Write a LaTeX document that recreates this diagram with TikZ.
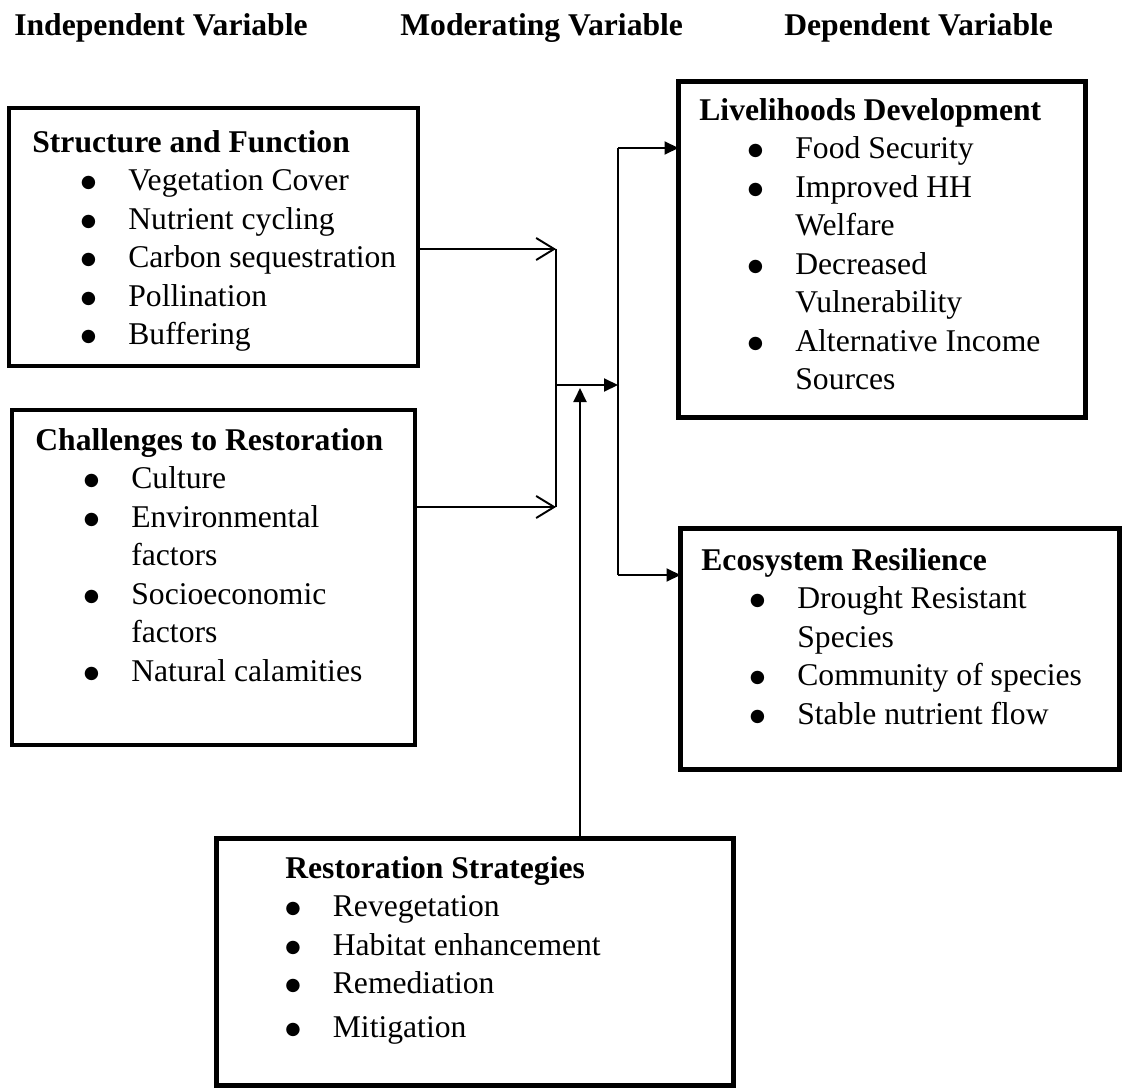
\documentclass[tikz,border=0pt]{standalone}
\usepackage{fontspec}
\setmainfont{Liberation Serif}
\newfontfamily\bulfont{DejaVu Sans}
\usetikzlibrary{arrows.meta, positioning}

\newcommand{\bul}{\raisebox{0.1em}{\bulfont\fontsize{10}{10}\selectfont ●}}
\newcommand{\itm}[2][0.97cm]{\makebox[\dimexpr#1+0.95cm\relax][l]{\hspace*{#1}\bul}#2}
\newcommand{\itmcont}[2][0.97cm]{\makebox[\dimexpr#1+0.95cm\relax]{}#2}

\begin{document}
\begin{tikzpicture}[
  box/.style={draw, rectangle, line width=2.6pt, anchor=north west, inner sep=0pt, outer sep=0pt},
  list/.style={anchor=north west, inner sep=0pt, align=left, font=\fontsize{18}{21.9}\selectfont},
  head/.style={anchor=west, inner sep=0pt, font=\fontsize{18}{21.9}\selectfont\bfseries},
  link/.style={line width=1.1pt},
  openarrow/.style={link, -{Straight Barb[length=0.36cm, width=0.44cm]}},
  arrow/.style={link, -{Triangle[length=0.28cm, width=0.26cm]}}
]
\useasboundingbox (0,0) rectangle (22.5,-21.8);

  % HEADINGS
  \node (hind) [head] at (0.28,-0.56) {Independent Variable};
  \node (hmod) [head] at (8.0,-0.56) {Moderating Variable};
  \node (hdep) [head] at (15.68,-0.56) {Dependent Variable};

  % INDEPENDENT VARIABLES
  \node (sf) [box, minimum width=8.18cm, minimum height=5.16cm] at (0.18,-2.16) {};
  \node (sf-txt) [list] at (0.64,-2.6) {\textbf{Structure and Function}\\
    \itm{Vegetation Cover}\\ \itm{Nutrient cycling}\\ \itm{Carbon sequestration}\\
    \itm{Pollination}\\ \itm{Buffering}};

  \node (cr) [box, minimum width=8.06cm, minimum height=6.7cm] at (0.24,-8.2) {};
  \node (cr-txt) [list] at (0.7,-8.56) {\textbf{Challenges to Restoration}\\
    \itm{Culture}\\ \itm{Environmental}\\ \itmcont{factors}\\
    \itm{Socioeconomic}\\ \itmcont{factors}\\ \itm{Natural calamities}};

  % DEPENDENT VARIABLES
  \node (ld) [box, minimum width=8.14cm, minimum height=6.72cm] at (13.57,-1.63) {};
  \node (ld-txt) [list] at (13.98,-1.96) {\textbf{Livelihoods Development}\\
    \itm{Food Security}\\ \itm{Improved HH}\\ \itmcont{Welfare}\\
    \itm{Decreased}\\ \itmcont{Vulnerability}\\ \itm{Alternative Income}\\ \itmcont{Sources}};

  \node (er) [box, minimum width=8.78cm, minimum height=4.82cm] at (13.61,-10.57) {};
  \node (er-txt) [list] at (14.02,-10.96) {\textbf{Ecosystem Resilience}\\
    \itm{Drought Resistant}\\ \itmcont{Species}\\ \itm{Community of species}\\
    \itm{Stable nutrient flow}};

  % MODERATING VARIABLE
  \node (rs) [box, minimum width=10.34cm, minimum height=4.94cm] at (4.33,-16.77) {};
  \node (rs-txt) [list] at (5.7,-17.12) {\textbf{Restoration Strategies}\\
    \itm[0cm]{Revegetation}\\ \itm[0cm]{Habitat enhancement}\\ \itm[0cm]{Remediation}\\[0.1cm]
    \itm[0cm]{Mitigation}};

  % JUNCTIONS
  \coordinate (jtop) at (11.12,-4.98);
  \coordinate (jbot) at (11.12,-10.14);
  \coordinate (jmid) at (11.12,-7.7);
  \coordinate (btop) at (12.36,-2.96);
  \coordinate (bmid) at (12.36,-7.7);
  \coordinate (bbot) at (12.36,-11.5);
  \coordinate (up) at (11.6,-7.76);

  \draw[openarrow] (sf.east |- jtop) -- (jtop);
  \draw[openarrow] (cr.east |- jbot) -- (jbot);
  \draw[link] (jtop) -- (jbot);
  \draw[arrow] (jmid) -- (bmid);
  \draw[link] (btop) -- (bbot);
  \draw[arrow] (btop) -- (btop -| ld.west);
  \draw[arrow] (bbot) -- (bbot -| er.west);
  \draw[arrow] (rs.north -| up) -- (up);

\end{tikzpicture}
\end{document}
